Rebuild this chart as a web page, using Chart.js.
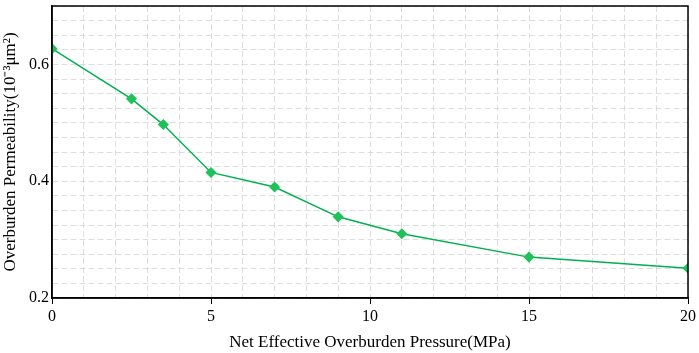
<!DOCTYPE html>
<html>
<head>
<meta charset="utf-8">
<script src="https://cdn.jsdelivr.net/npm/chart.js@4.4.0/dist/chart.umd.min.js"></script>
<style>
  html, body { margin: 0; padding: 0; background: #fff; }
  #wrap { width: 699px; height: 353px; }
</style>
</head>
<body>
<div id="wrap"><canvas id="chart" width="699" height="353"></canvas></div>
<script>
// Net effective overburden pressure (MPa) vs overburden permeability
const pressure = [0, 2.5, 3.5, 5, 7, 9, 11, 15, 20];
const permeability = [0.627, 0.541, 0.497, 0.415, 0.39, 0.339, 0.31, 0.27, 0.251];
const xMajorTicks = [0, 5, 10, 15, 20];
const yMajorTicks = [0.2, 0.4, 0.6];

const serif = "'Liberation Serif', 'Times New Roman', serif";
const gridGray = 'rgba(200,200,200,0.6)';

function isMajor(list, v) {
    return list.some(t => Math.abs(t - v) < 1e-6);
}

// draws the closed frame round the plot area
const frame = {
    id: 'frame',
    afterDraw(chart) {
        const a = chart.chartArea;
        const c = chart.ctx;
        c.save();
        c.strokeStyle = '#000';
        c.lineWidth = 1.5;
        c.strokeRect(a.left, a.top, a.right - a.left, a.bottom - a.top);
        c.restore();
    }
};

new Chart(document.getElementById('chart'), {
    type: 'line',
    data: {
        datasets: [{
            data: pressure.map((x, i) => ({ x: x, y: permeability[i] })),
            borderColor: '#00b050',
            backgroundColor: '#1fc25a',
            pointBorderColor: '#1fc25a',
            borderWidth: 1.5,
            pointStyle: 'rectRot',
            pointRadius: 4.5,
            pointHoverRadius: 4.5,
            tension: 0
        }]
    },
    options: {
        responsive: false,
        animation: false,
        layout: { padding: { top: 0, right: 11, left: 0, bottom: 0 } },
        plugins: { legend: { display: false }, tooltip: { enabled: false } },
        scales: {
            x: {
                type: 'linear',
                min: 0,
                max: 20,
                afterFit(s) { s.height = 55; s.paddingRight = 0; },
                ticks: {
                    stepSize: 1,
                    autoSkip: false,
                    maxRotation: 0,
                    color: '#000',
                    font: { family: serif, size: 16 },
                    padding: 3,
                    callback: v => isMajor(xMajorTicks, v) ? String(v) : ''
                },
                grid: {
                    color: gridGray,
                    lineWidth: 1,
                    tickLength: 6,
                    tickColor: ctx => isMajor(xMajorTicks, ctx.tick ? ctx.tick.value : -1) ? '#000' : 'rgba(0,0,0,0)'
                },
                border: { display: true, color: '#000', width: 1.5, dash: [6, 3] },
                title: {
                    display: true,
                    text: 'Net Effective Overburden Pressure(MPa)',
                    color: '#000',
                    font: { family: serif, size: 17 },
                    padding: { top: 2, bottom: 0 }
                }
            },
            y: {
                type: 'linear',
                min: 0.2,
                max: 0.7,
                afterFit(s) { s.width = 52; s.paddingTop = 0; },
                ticks: {
                    stepSize: 0.025,
                    autoSkip: false,
                    color: '#000',
                    font: { family: serif, size: 16 },
                    padding: 3,
                    callback: v => isMajor(yMajorTicks, v) ? String(Math.round(v * 10) / 10) : ''
                },
                grid: {
                    color: gridGray,
                    lineWidth: 1,
                    tickLength: 0
                },
                border: { display: true, color: '#000', width: 1.5, dash: [6, 3] },
                title: {
                    display: true,
                    text: 'Overburden Permeability(10\u207B\u00B3\u03BCm\u00B2)',
                    color: '#000',
                    font: { family: serif, size: 17 },
                    padding: { top: 0, bottom: 2 }
                }
            }
        }
    },
    plugins: [frame]
});
</script>
</body>
</html>
